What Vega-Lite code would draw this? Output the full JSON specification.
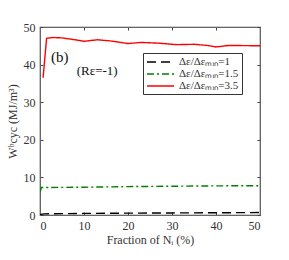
{
  "$schema": "https://vega.github.io/schema/vega-lite/v6.json",
  "autosize": "none",
  "width": 220,
  "height": 188,
  "padding": {"left": 40, "top": 27, "right": 29, "bottom": 45},
  "background": "white",
  "config": {
    "view": {"stroke": "#444", "strokeWidth": 1.2},
    "font": "Liberation Serif",
    "axis": {"labelFont": "Liberation Serif", "titleFont": "Liberation Serif", "labelColor": "#333", "titleColor": "#333", "domainColor": "#666", "tickColor": "#444", "grid": false, "tickSize": -3, "labelPadding": 8, "labelFontSize": 12, "titleFontSize": 12, "titleFontWeight": "normal"}
  },
  "datasets": {
    "lines": [
      {"series": "Δε/Δεₘᵢₙ=1", "x": 0, "y": 0.15},
      {"series": "Δε/Δεₘᵢₙ=1", "x": 1, "y": 0.3},
      {"series": "Δε/Δεₘᵢₙ=1", "x": 10, "y": 0.42},
      {"series": "Δε/Δεₘᵢₙ=1", "x": 20, "y": 0.5},
      {"series": "Δε/Δεₘᵢₙ=1", "x": 30, "y": 0.55},
      {"series": "Δε/Δεₘᵢₙ=1", "x": 40, "y": 0.6},
      {"series": "Δε/Δεₘᵢₙ=1", "x": 50, "y": 0.65},
      {"series": "Δε/Δεₘᵢₙ=1.5", "x": 0, "y": 6.0},
      {"series": "Δε/Δεₘᵢₙ=1.5", "x": 0.3, "y": 7.3},
      {"series": "Δε/Δεₘᵢₙ=1.5", "x": 10, "y": 7.4},
      {"series": "Δε/Δεₘᵢₙ=1.5", "x": 20, "y": 7.55},
      {"series": "Δε/Δεₘᵢₙ=1.5", "x": 30, "y": 7.65},
      {"series": "Δε/Δεₘᵢₙ=1.5", "x": 40, "y": 7.75},
      {"series": "Δε/Δεₘᵢₙ=1.5", "x": 50, "y": 7.8},
      {"series": "Δε/Δεₘᵢₙ=3.5", "x": 0.7, "y": 36.5},
      {"series": "Δε/Δεₘᵢₙ=3.5", "x": 1.5, "y": 47.0},
      {"series": "Δε/Δεₘᵢₙ=3.5", "x": 3, "y": 47.2},
      {"series": "Δε/Δεₘᵢₙ=3.5", "x": 5, "y": 47.1},
      {"series": "Δε/Δεₘᵢₙ=3.5", "x": 8, "y": 46.6},
      {"series": "Δε/Δεₘᵢₙ=3.5", "x": 10, "y": 46.2},
      {"series": "Δε/Δεₘᵢₙ=3.5", "x": 13, "y": 46.6},
      {"series": "Δε/Δεₘᵢₙ=3.5", "x": 16, "y": 46.3},
      {"series": "Δε/Δεₘᵢₙ=3.5", "x": 20, "y": 45.6},
      {"series": "Δε/Δεₘᵢₙ=3.5", "x": 23, "y": 45.9},
      {"series": "Δε/Δεₘᵢₙ=3.5", "x": 27, "y": 45.7},
      {"series": "Δε/Δεₘᵢₙ=3.5", "x": 31, "y": 45.3},
      {"series": "Δε/Δεₘᵢₙ=3.5", "x": 35, "y": 45.4},
      {"series": "Δε/Δεₘᵢₙ=3.5", "x": 38, "y": 45.1},
      {"series": "Δε/Δεₘᵢₙ=3.5", "x": 40, "y": 44.7},
      {"series": "Δε/Δεₘᵢₙ=3.5", "x": 43, "y": 45.1},
      {"series": "Δε/Δεₘᵢₙ=3.5", "x": 50, "y": 45.0}
    ],
    "notes": [
      {"label": "(b)", "x": 4.5, "y": 42, "size": 15},
      {"label": "(Rε=-1)", "x": 13, "y": 38.2, "size": 13}
    ]
  },
  "layer": [
    {
      "data": {"name": "lines"},
      "mark": {"type": "line", "strokeWidth": 1.4, "clip": true},
      "encoding": {
        "x": {"field": "x", "type": "quantitative", "scale": {"domain": [0, 50], "nice": false, "zero": false}, "axis": {"orient": "bottom", "values": [0, 10, 20, 30, 40, 50], "title": "Fraction of Nᵢ (%)", "titlePadding": 3}},
        "y": {"field": "y", "type": "quantitative", "scale": {"domain": [0, 50], "nice": false, "zero": false}, "axis": {"orient": "left", "values": [0, 10, 20, 30, 40, 50], "title": "Wᵇcyc (MJ/m³)", "titlePadding": 4}},
        "color": {"field": "series", "type": "nominal", "scale": {"range": ["#000000", "#008000", "#ff0000"]},
          "legend": {"title": null, "orient": "none", "legendX": 103, "legendY": 26, "fillColor": "white", "strokeColor": "#333", "padding": 3, "labelFont": "Liberation Serif", "labelFontSize": 11, "labelColor": "#333", "labelOffset": 21, "symbolType": "M-1,0H4.4", "symbolSize": 100, "symbolStrokeWidth": 1.5, "rowPadding": 1}},
        "strokeDash": {"field": "series", "type": "nominal", "scale": {"range": [[9, 5], [7, 3, 2, 3], [1, 0]]}},
        "order": {"field": "x", "type": "quantitative"}
      }
    },
    {
      "data": {"name": "notes"},
      "mark": {"type": "text", "font": "Liberation Serif", "color": "#111"},
      "encoding": {
        "x": {"field": "x", "type": "quantitative", "scale": {"domain": [0, 50], "nice": false, "zero": false}, "axis": {"orient": "top", "values": [0, 10, 20, 30, 40, 50], "labels": false, "title": null}},
        "y": {"field": "y", "type": "quantitative", "scale": {"domain": [0, 50], "nice": false, "zero": false}, "axis": {"orient": "right", "values": [0, 10, 20, 30, 40, 50], "labels": false, "title": null}},
        "text": {"field": "label"},
        "size": {"field": "size", "type": "quantitative", "scale": null, "legend": null}
      }
    }
  ],
  "resolve": {"scale": {"x": "independent", "y": "independent"}, "axis": {"x": "independent", "y": "independent"}}
}
